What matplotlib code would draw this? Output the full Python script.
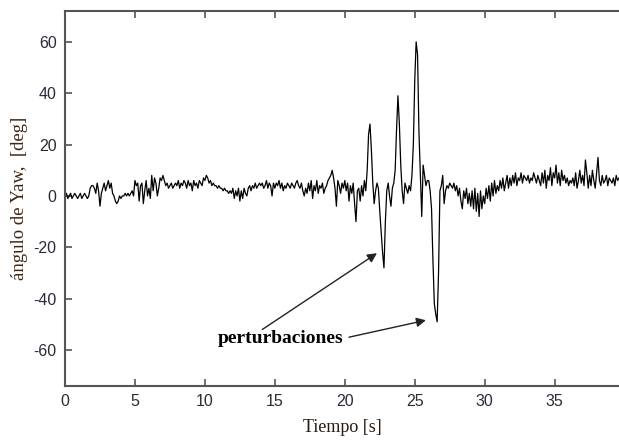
import numpy as np
import matplotlib.pyplot as plt

plt.rcParams['axes.unicode_minus'] = False

# yaw angle [deg], sampled every 0.1 s from t = 0 (one row per second)
yaw = [
    0, 1, -1, 0, 1, -1, 0, 1, 0, -1,
    0, 1, -1, 0, 1, 0, -1, 0, 3, 4,
    4, 3, 1, 5, 2, -4, 1, 3, 5, 2,
    4, 6, 3, 5, 1, 0, -2, -3, -2, 0,
    -1, 0, 0, 1, 0, 1, 0, 1, 2, 0,
    6, 4, 5, -2, 4, 5, -3, 2, 6, 0,
    3, -1, 8, 2, 7, 5, 0, 3, 7, 6,
    8, 6, 4, 5, 3, 4, 5, 3, 4, 5,
    4, 6, 3, 5, 4, 6, 5, 3, 6, 4,
    5, 2, 6, 4, 5, 3, 6, 5, 4, 7,
    6, 8, 7, 5, 6, 4, 5, 4, 4, 3,
    4, 3, 3, 2, 3, 2, 2, 1, 2, 1,
    3, -1, 2, 0, 3, -2, 2, -1, 3, 1,
    0, 3, 4, 2, 4, 3, 5, 3, 4, 5,
    4, 5, 3, 4, 6, 3, 5, 4, 0, 5,
    3, 5, 4, 6, 3, 5, 2, 4, 3, 5,
    4, 3, 5, 4, 3, 5, 6, 4, 3, 5,
    2, 0, 3, 1, 5, 2, 6, -1, 4, 2,
    6, 1, 4, 3, 5, 1, 3, 4, 6, 7,
    8, 10, 7, 3, -4, 6, 4, 1, 5, 3,
    6, 2, 5, -2, 4, 1, 5, -3, -10, 2,
    3, -2, 4, 0, 6, 2, 10, 24, 28, 18,
    5, -3, 2, 5, 3, -6, -14, -22, -28, -10,
    2, 5, 0, -4, 3, 5, 10, 26, 39, 28,
    12, 2, -3, 5, 3, 1, 4, 2, 8, 20,
    45, 60, 55, 25, 8, -8, 12, 8, 4, 6,
    6, 2, -5, -25, -42, -46, -49, -30, 2, 4,
    8, -3, 2, 4, 3, 5, 4, 3, 5, 2,
    4, 0, 3, -2, -5, 2, -1, 3, -3, 1,
    -4, 2, -5, 3, -6, 1, -8, 2, -5, 0,
    -3, 3, -1, 4, -2, 5, 0, 6, 1, 4,
    2, 6, 3, 7, 2, 5, 8, 3, 7, 4,
    8, 5, 9, 4, 7, 6, 9, 5, 8, 7,
    6, 8, 5, 7, 6, 9, 7, 5, 8, 6,
    4, 9, 5, 10, 3, 8, 6, 11, 4, 9,
    7, 12, 5, 9, 4, 10, 6, 8, 5, 7,
    4, 6, 5, 7, 4, 9, 3, 6, 10, 5,
    8, 4, 14, 9, 3, 8, 4, 10, 6, 3,
    9, 15, 6, 4, 8, 5, 6, 8, 4, 7,
    6, 5, 7, 4, 8, 6, 7,
]
t = np.arange(len(yaw)) * 0.1

x_ticks = [0, 5, 10, 15, 20, 25, 30, 35]
y_ticks = [-60, -40, -20, 0, 20, 40, 60]

# annotation: text position and arrow tips (data coords)
note_text = "perturbaciones"
note_xy = (10.9, -55.5)
arrow_tails = [(14.1, -52), (20.3, -55)]
arrow_tips = [(22.3, -22.3), (25.8, -48.4)]

SPINE = "#555555"
TICKLBL = "#2a2a38"

fig = plt.figure(figsize=(6.19, 4.44), dpi=100)
# the original is cropped at the right: no right spine visible
ax = fig.add_axes([65 / 619, 58 / 444, 554 / 619, 375 / 444])

ax.plot(t, yaw, color="black", linewidth=0.9)

ax.set_xlim(0, 39.6)
ax.set_ylim(-74, 72)
ax.set_xticks(x_ticks)
ax.set_yticks(y_ticks)

for s in ax.spines.values():
    s.set_color(SPINE)
    s.set_linewidth(1.5)
ax.spines["right"].set_visible(False)
ax.tick_params(direction="in", length=5, width=1.2, color=SPINE,
               top=True, right=False, labelsize=11.5, labelcolor=TICKLBL,
               pad=6)
for lbl in ax.get_xticklabels() + ax.get_yticklabels():
    lbl.set_family("Liberation Sans")

ax.set_xlabel("Tiempo [s]", family="Liberation Serif", fontsize=13,
              color="#2a1a10", labelpad=7)
ax.set_ylabel("ángulo de Yaw,  [deg]", family="Liberation Serif", fontsize=13.5,
              color="#3e2614", labelpad=4)

ax.text(*note_xy, note_text, family="Liberation Serif", fontweight="bold",
        fontsize=14, va="center", ha="left")
for tail, tip in zip(arrow_tails, arrow_tips):
    ax.annotate("", xy=tip, xytext=tail,
                arrowprops=dict(arrowstyle="-|>", color="#222222", lw=1.0,
                                mutation_scale=14, shrinkA=0, shrinkB=0))

plt.savefig("out.png", dpi=100)
